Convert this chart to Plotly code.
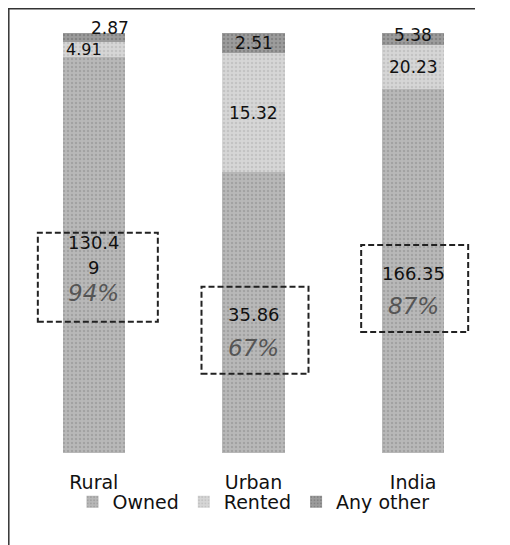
import plotly.graph_objects as go

categories = ["Rural", "Urban", "India"]
owned = [130.49, 35.86, 166.35]
rented = [4.91, 15.32, 20.23]
any_other = [2.87, 2.51, 5.38]
owned_pct_labels = ["94%", "67%", "87%"]
owned_text = ["130.4<br>9", "35.86", "166.35"]

FONT = "DejaVu Sans"
# page body has an 8px margin, so the figure is drawn 8px in from the window edge
W, H = 502, 537
ML, MR, MT, MB = 6, 17, 25, 92
PW = W - ML - MR
PH = H - MT - MB

totals = [o + r + a for o, r, a in zip(owned, rented, any_other)]
pct = lambda v, t: 100.0 * v / t

fig = go.Figure()
series = [
    ("Owned", owned, "#b8b8b8", "#8c8c8c"),
    ("Rented", rented, "#d6d6d6", "#b0b0b0"),
    ("Any other", any_other, "#9c9c9c", "#6a6a6a"),
]
for name, vals, bg, fg in series:
    fig.add_trace(go.Bar(
        x=categories, y=vals, name=name, width=0.39,
        marker=dict(color=bg, line=dict(width=0),
                    pattern=dict(shape=".", fgcolor=fg, bgcolor=bg, size=4, solidity=0.3)),
        hoverinfo="skip",
    ))

ann = []
shapes = []
for i, c in enumerate(categories):
    t = totals[i]
    po, pr, pa = pct(owned[i], t), pct(rented[i], t), pct(any_other[i], t)
    mid_owned = po / 2
    mid_rent = po + pr / 2
    mid_other = po + pr + pa / 2
    if i == 0:
        ann.append(dict(x=i, y=mid_other, text=f"{any_other[i]:.2f}", xshift=16, yshift=9,
                        font=dict(size=17, color="#111")))
        ann.append(dict(x=i, y=mid_rent, text=f"{rented[i]:.2f}", xshift=-10, yshift=0,
                        font=dict(size=16, color="#111")))
        lines = owned_text[i].split("<br>")
        ann.append(dict(x=i, y=mid_owned, text=lines[0], yshift=12, font=dict(size=18, color="#111")))
        ann.append(dict(x=i, y=mid_owned, text=lines[1], yshift=-13, font=dict(size=18, color="#111")))
        ann.append(dict(x=i, y=mid_owned, text="<i>" + owned_pct_labels[i] + "</i>", yshift=-38,
                        font=dict(size=23, color="#555")))
        y0, y1, x0, x1 = -67, 22, -56, 64
    else:
        ann.append(dict(x=i, y=mid_other, text=f"{any_other[i]:.2f}", yshift=(0 if i == 1 else 4),
                        font=dict(size=17, color="#111")))
        ann.append(dict(x=i, y=mid_rent, text=f"{rented[i]:.2f}",
                        font=dict(size=17, color="#111")))
        ann.append(dict(x=i, y=mid_owned, text=owned_text[i], yshift=-2, font=dict(size=18, color="#111")))
        ann.append(dict(x=i, y=mid_owned, text="<i>" + owned_pct_labels[i] + "</i>", yshift=-35,
                        font=dict(size=23, color="#555")))
        y0, y1, x0, x1 = -61, 26, -52, 55
    shapes.append(dict(type="rect", xref="x", yref="y", xsizemode="pixel", ysizemode="pixel",
                       xanchor=i, yanchor=mid_owned, x0=x0, x1=x1, y0=y0, y1=y1,
                       line=dict(color="#222", width=2, dash="6px,3px"), layer="above"))

for a in ann:
    a.update(xref="x", yref="y", showarrow=False, font=dict(family=FONT, **a["font"]))

# outer frame lines (left and top)
px = lambda p: (p - ML) / PW
py = lambda p: (H - MB - p) / PH
shapes.append(dict(type="line", xref="paper", yref="paper", x0=px(0.8), x1=px(0.8), y0=py(0), y1=py(H),
                   line=dict(color="#333", width=1.5)))
shapes.append(dict(type="line", xref="paper", yref="paper", x0=px(0), x1=px(467), y0=py(0.8), y1=py(0.8),
                   line=dict(color="#333", width=1.5)))

fig.update_layout(
    width=W, height=H,
    margin=dict(l=ML, r=MR, t=MT, b=MB, pad=0),
    barmode="stack", barnorm="percent",
    paper_bgcolor="white", plot_bgcolor="white",
    font=dict(family=FONT, size=19, color="#111"),
    xaxis=dict(showgrid=False, showline=False, zeroline=False, ticks="",
               ticklabelstandoff=16, tickfont=dict(size=19), range=[-0.5, 2.5]),
    yaxis=dict(range=[0, 100], showgrid=False, zeroline=False, showline=False,
               showticklabels=False, ticks=""),
    legend=dict(orientation="h", x=0.5, xanchor="center", y=py(494), yanchor="middle",
                font=dict(size=19), itemwidth=30, traceorder="normal", bgcolor="rgba(0,0,0,0)"),
    annotations=ann, shapes=shapes, showlegend=True,
)

fig.write_html("out.html")
